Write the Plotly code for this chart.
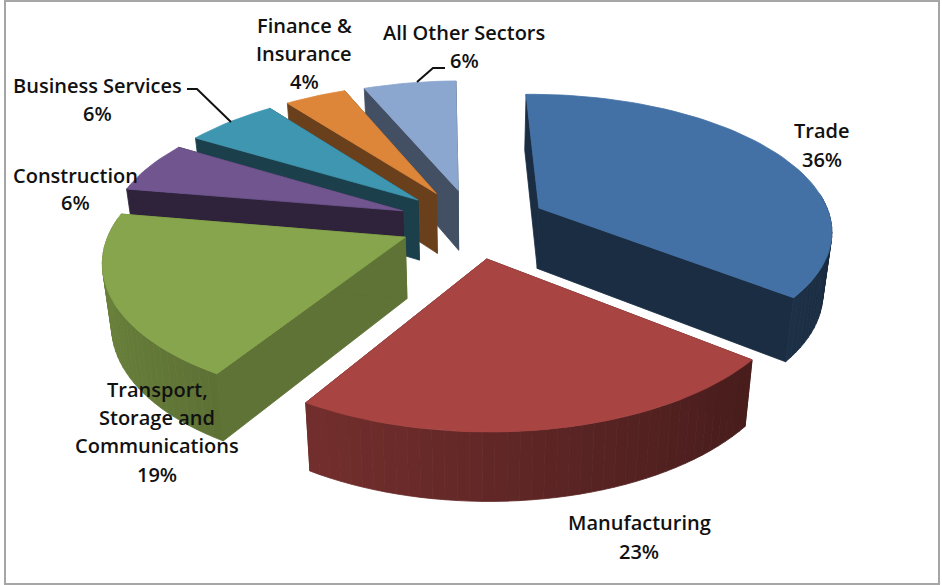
import math
import plotly.graph_objects as go

# ---- data ----
sectors = ["Trade", "Manufacturing", "Transport, Storage and Communications",
           "Construction", "Business Services", "Finance & Insurance", "All Other Sectors"]
shares = [36, 23, 19, 6, 6, 4, 6]
top_colors = ["#4371A6", "#A84442", "#87A54C", "#70558F", "#3F96B0", "#DD863A", "#8BA6CF"]
wall_shade = [0.40, 0.42, 0.70, 0.41, 0.43, 0.48, 0.48]
pulls = [0.255, 0.26, 0.25, 0.26, 0.26, 0.26, 0.255]

# ---- 3-D pie view ----
CX, CY, RAD, K, PERSP = 473.0, 223.0, 293.0, 135.0, 0.15
START, DEPTH, SHRINK = -1.0, 61.0, 0.975
W, H = 942, 585


def project(x, y):
    s = 1.0 / (1.0 - PERSP * y)
    return CX + RAD * x * s, CY + K * y * s, s


def lower(px, py, s):
    return CX + (px - CX) * SHRINK, py + DEPTH * (1 + 0.6 * (s - 1))


def rgb(hexc, f=1.0):
    r, g, b = (int(hexc[i:i + 2], 16) for i in (1, 3, 5))
    return f"rgb({r * f:.0f},{g * f:.0f},{b * f:.0f})"


fig = go.Figure()


def poly(xs, ys, color):
    fig.add_trace(go.Scatter(x=xs + xs[:1], y=ys + ys[:1], mode="lines", fill="toself",
                             fillcolor=color, line=dict(color=color, width=0.8),
                             hoverinfo="skip", showlegend=False))


angles = []
a = START
for v in shares:
    b = a + v / sum(shares) * 360.0
    angles.append((a, b))
    a = b

# back slices first, the front ones last
for i in [6, 5, 4, 3, 2, 0, 1]:
    a0, a1 = angles[i]
    mid = math.radians((a0 + a1) / 2)
    ox, oy = pulls[i] * math.sin(mid), -pulls[i] * math.cos(mid)
    n = max(3, int((a1 - a0) / 2))
    th = [math.radians(a0 + (a1 - a0) * j / n) for j in range(n + 1)]
    top = [project(ox + math.sin(t), oy - math.cos(t)) for t in th]
    bot = [lower(*p) for p in top]
    apex = project(ox, oy)
    apex_b = lower(*apex)
    col = top_colors[i]

    # straight cut walls
    wall = rgb(col, wall_shade[i])
    for k in (0, n):
        poly([apex[0], top[k][0], bot[k][0], apex_b[0]],
             [apex[1], top[k][1], bot[k][1], apex_b[1]], wall)
    # rounded outer wall, shaded step by step; only the part that faces the viewer
    for j in range(n):
        t = (th[j] + th[j + 1]) / 2
        if math.cos(t) < 0.12:
            f = 0.58 - 0.2 * math.sin(t)
            poly([top[j][0], top[j + 1][0], bot[j + 1][0], bot[j][0]],
                 [top[j][1], top[j + 1][1], bot[j + 1][1], bot[j][1]], rgb(col, f))
    # top face
    poly([apex[0]] + [p[0] for p in top], [apex[1]] + [p[1] for p in top], rgb(col))

# leader lines
for xs, ys in [([187, 197, 231], [89, 89, 122]), ([445, 433, 417], [68, 68, 82])]:
    fig.add_trace(go.Scatter(x=xs, y=ys, mode="lines", line=dict(color="#111111", width=2),
                             hoverinfo="skip", showlegend=False))

# labels: one text per line because the line spacing of the original is wide
label_lines = [
    (["Trade"], 822, 130),
    (["Manufacturing"], 639, 522),
    (["Transport,", "Storage and", "Communications"], 157, 389),
    (["Construction"], 75, 175),
    (["Business Services"], 97, 85),
    (["Finance &", "Insurance"], 304, 25),
    (["All Other Sectors"], 464, 32),
]
STEP = [29, 29, 28.4, 27, 28, 28, 28]
for i, (lines, lx, ly) in enumerate(label_lines):
    for j, txt in enumerate(lines + [f"{shares[i]}%"]):
        fig.add_annotation(x=lx, y=ly + j * STEP[i], text=txt, showarrow=False,
                           xanchor="center", yanchor="middle",
                           font=dict(family="Open Sans", size=20, color="#111111", weight=600))

fig.add_shape(type="rect", x0=5, y0=1, x1=939, y1=584,
              line=dict(color="#A6A6A6", width=2), fillcolor="rgba(0,0,0,0)")

fig.update_layout(
    width=W, height=H, margin=dict(l=0, r=0, t=0, b=0),
    paper_bgcolor="white", plot_bgcolor="white", showlegend=False,
    xaxis=dict(range=[0, W], visible=False, fixedrange=True),
    yaxis=dict(range=[H, 0], visible=False, fixedrange=True),
)
fig.write_html("out.html", config=dict(displayModeBar=False),
               post_script="document.body.style.margin='0';document.documentElement.style.overflow='hidden';")
